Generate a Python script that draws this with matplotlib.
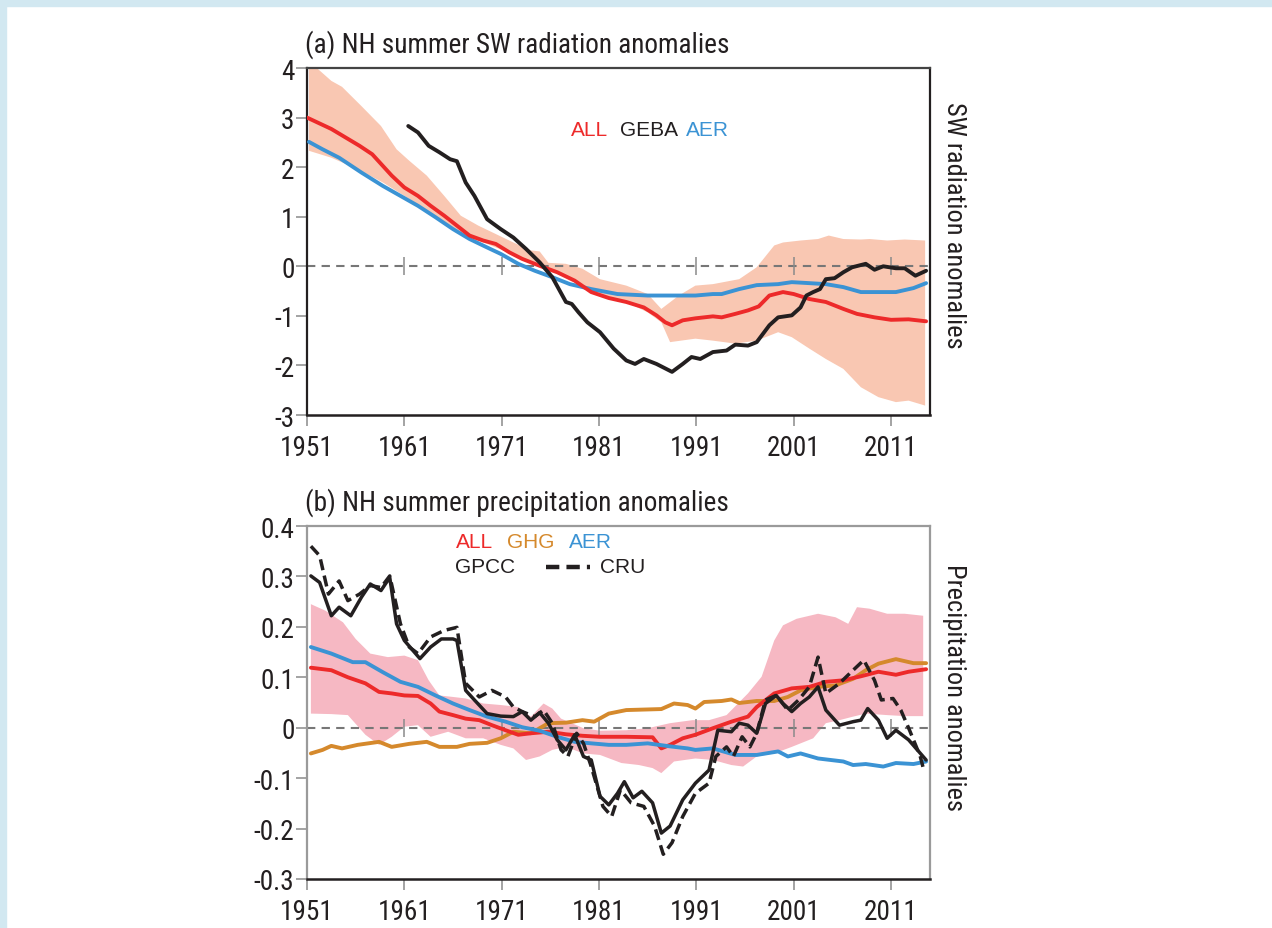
import numpy as np
import matplotlib.pyplot as plt
from matplotlib.patches import Rectangle

# ------------------------------------------------------------
# data
# ------------------------------------------------------------
decades = [1951, 1961, 1971, 1981, 1991, 2001, 2011]

# (a) SW radiation anomalies
a_all_yr = [1951, 1953.5, 1956.4, 1957.7, 1959.7, 1961, 1962.4, 1963.7, 1965.1, 1966.4, 1967.7, 1969.1,
            1970.4, 1971.8, 1973.1, 1974.9, 1976.7, 1978.5, 1980.2, 1982, 1983.8, 1985.6, 1986.9, 1987.8,
            1988.5, 1989.6, 1990.9, 1992.7, 1993.6, 1995, 1996.3, 1997.4, 1998.5, 1999.9, 2001, 2002.6,
            2004.3, 2006.1, 2007.5, 2009.3, 2011, 2012.8, 2014.6]
a_all = [3.0, 2.77, 2.43, 2.26, 1.83, 1.59, 1.42, 1.22, 1.02, 0.82, 0.62, 0.52,
         0.45, 0.28, 0.15, 0.01, -0.12, -0.29, -0.52, -0.64, -0.72, -0.83, -0.99, -1.13,
         -1.19, -1.09, -1.05, -1.01, -1.03, -0.96, -0.89, -0.81, -0.59, -0.52, -0.56, -0.66,
         -0.72, -0.86, -0.96, -1.03, -1.08, -1.07, -1.11]

a_aer_yr = [1951.2, 1952.6, 1954.3, 1956.6, 1958.8, 1960.6, 1962.4, 1964.2, 1966, 1967.7, 1969.5, 1970.9,
            1972.7, 1974.4, 1976.2, 1978, 1980.2, 1982.9, 1986, 1988.3, 1990.9, 1992.7, 1993.6, 1995.4,
            1997.2, 1999.4, 2000.8, 2002.6, 2004.3, 2006.1, 2007.9, 2009.7, 2011.5, 2013.3, 2014.6]
a_aer = [2.51, 2.36, 2.19, 1.89, 1.62, 1.42, 1.22, 0.99, 0.75, 0.55, 0.38, 0.25,
         0.05, -0.09, -0.22, -0.36, -0.46, -0.56, -0.59, -0.59, -0.59, -0.56, -0.56, -0.46,
         -0.38, -0.36, -0.32, -0.34, -0.36, -0.42, -0.52, -0.52, -0.52, -0.44, -0.34]

a_geba_yr = [1961.4, 1962.4, 1963.5, 1964.6, 1965.7, 1966.4, 1967.3, 1968.2, 1969.5, 1970.9, 1972.2, 1973.5,
             1974.9, 1976.2, 1977.6, 1978.2, 1978.9, 1979.8, 1981.1, 1982.5, 1983.8, 1984.7, 1985.6, 1986.9,
             1988.5, 1989.6, 1990.5, 1991.4, 1992.7, 1994.1, 1995, 1996.3, 1997.2, 1998.5, 1999.4, 2000.8,
             2001.7, 2002.3, 2003, 2003.7, 2004.3, 2005.2, 2006.1, 2007, 2008.4, 2009.3, 2010.2, 2011.5,
             2012.4, 2013.5, 2014.6]
a_geba = [2.83, 2.70, 2.43, 2.30, 2.16, 2.12, 1.69, 1.42, 0.95, 0.75, 0.58, 0.35,
          0.08, -0.22, -0.72, -0.76, -0.93, -1.13, -1.33, -1.66, -1.90, -1.97, -1.87, -1.97,
          -2.13, -1.97, -1.83, -1.87, -1.73, -1.70, -1.58, -1.60, -1.53, -1.19, -1.03, -0.99,
          -0.83, -0.59, -0.52, -0.46, -0.26, -0.24, -0.12, -0.02, 0.05, -0.07, 0.0, -0.04,
          -0.04, -0.19, -0.09]

a_hi_yr = [1951.2, 1953.5, 1954.6, 1956.6, 1958.6, 1960.2, 1961.5, 1963.3, 1965.1, 1966.8, 1968.6, 1970.4,
           1972.2, 1974, 1974.9, 1975.8, 1977.6, 1979.3, 1981.1, 1983.8, 1986, 1987.4, 1989.2, 1990.9,
           1992.7, 1995.4, 1997.2, 1999, 1999.9, 2001.7, 2003.5, 2004.6, 2006.1, 2007.9, 2008.8, 2010.6,
           2012.4, 2014.5]
a_hi = [4.14, 3.74, 3.62, 3.23, 2.83, 2.36, 2.13, 1.83, 1.42, 1.02, 0.82, 0.65,
        0.48, 0.32, 0.30, 0.07, 0.05, -0.05, -0.26, -0.39, -0.56, -0.86, -0.59, -0.39,
        -0.36, -0.26, -0.02, 0.42, 0.48, 0.52, 0.55, 0.62, 0.55, 0.54, 0.55, 0.52,
        0.54, 0.52]
a_lo_yr = [1951.2, 1953.5, 1956.2, 1958.8, 1961.5, 1964.2, 1966.8, 1967.7, 1969.5, 1971.8, 1974, 1975.8,
           1977.6, 1979.3, 1981.1, 1983.8, 1986, 1987.4, 1988.3, 1990.9, 1992.7, 1995, 1997.2, 1999.4,
           2000.8, 2002.6, 2004.3, 2006.1, 2007.9, 2009.7, 2011.5, 2012.8, 2014.5]
a_lo = [2.33, 2.19, 1.96, 1.69, 1.36, 1.02, 0.68, 0.58, 0.45, 0.27, 0.08, -0.05,
        -0.22, -0.39, -0.59, -0.72, -0.93, -1.13, -1.53, -1.46, -1.50, -1.56, -1.50, -1.33,
        -1.43, -1.66, -1.87, -2.07, -2.44, -2.64, -2.74, -2.71, -2.81]

# (b) precipitation anomalies
b_all_yr = [1951.4, 1953.5, 1955.2, 1957, 1958.4, 1959.7, 1961, 1962.4, 1963.7, 1964.6, 1966, 1967.3,
            1968.7, 1970, 1971.4, 1972.7, 1974, 1975.8, 1977.6, 1979.3, 1981.1, 1983.8, 1986.5, 1987.4,
            1988.3, 1989.6, 1990.9, 1992.7, 1994.6, 1996.3, 1997.2, 1999, 2000.8, 2002.6, 2004.3, 2006.1,
            2007.9, 2009.7, 2011.5, 2012.8, 2014.6]
b_all = [0.119, 0.114, 0.10, 0.088, 0.071, 0.068, 0.064, 0.063, 0.048, 0.032, 0.025, 0.018,
         0.015, 0.005, -0.005, -0.014, -0.011, -0.008, -0.013, -0.016, -0.018, -0.018, -0.019, -0.041,
         -0.034, -0.021, -0.014, -0.001, 0.012, 0.022, 0.041, 0.068, 0.078, 0.081, 0.091, 0.094,
         0.102, 0.111, 0.105, 0.111, 0.116]

b_ghg_yr = [1951.4, 1952.6, 1953.5, 1954.6, 1956.2, 1958.4, 1959.7, 1961.5, 1963.3, 1964.6, 1966.4, 1967.7,
            1969.5, 1970.9, 1972.2, 1974, 1975.8, 1977.6, 1979.3, 1980.5, 1982, 1983.8, 1985.6, 1987.4,
            1988.7, 1990.1, 1990.9, 1991.8, 1993.6, 1994.6, 1995.4, 1997.2, 1999, 2000.4, 2001.7, 2003.5,
            2005.3, 2007.1, 2008.4, 2009.7, 2011.5, 2013.3, 2014.6]
b_ghg = [-0.051, -0.044, -0.036, -0.041, -0.034, -0.028, -0.038, -0.032, -0.028, -0.038, -0.038, -0.032,
         -0.03, -0.021, -0.008, -0.011, 0.009, 0.01, 0.015, 0.012, 0.028, 0.035, 0.036, 0.037,
         0.048, 0.045, 0.038, 0.051, 0.053, 0.056, 0.049, 0.053, 0.053, 0.061, 0.074, 0.081,
         0.084, 0.097, 0.114, 0.127, 0.136, 0.128, 0.128]

b_aer_yr = [1951.4, 1953.5, 1955.7, 1957, 1958.8, 1960.6, 1962.4, 1964.2, 1966, 1967.7, 1969.5, 1971.4,
            1973.1, 1974.9, 1976.7, 1978.5, 1980.2, 1982, 1983.8, 1986, 1988.3, 1990.1, 1990.9, 1992.7,
            1995, 1997.2, 1999.4, 2000.4, 2001.7, 2003.5, 2006.1, 2007.1, 2008.4, 2010.2, 2011.5, 2013.3,
            2014.6]
b_aer = [0.16, 0.147, 0.13, 0.13, 0.11, 0.091, 0.081, 0.064, 0.048, 0.035, 0.022, 0.012,
         0.001, -0.006, -0.018, -0.028, -0.031, -0.034, -0.034, -0.031, -0.037, -0.041, -0.044, -0.041,
         -0.054, -0.054, -0.047, -0.057, -0.051, -0.061, -0.067, -0.074, -0.072, -0.077, -0.07, -0.072,
         -0.067]

b_gpcc_yr = [1951.4, 1952.3, 1953.5, 1954.3, 1955.5, 1956.6, 1957.5, 1958.6, 1959.5, 1960.2, 1961, 1962.6,
             1963.7, 1964.8, 1966, 1966.4, 1967.3, 1968.2, 1969.5, 1970.9, 1972.2, 1973.1, 1974, 1974.9,
             1975.8, 1976.7, 1977.6, 1978.5, 1979.4, 1980.2, 1981.1, 1982, 1982.9, 1983.6, 1984.5, 1985.4,
             1986.5, 1987.4, 1988.3, 1989.6, 1990.9, 1992.3, 1993.2, 1994.6, 1995.4, 1996.3, 1997.2, 1998.1,
             1999.2, 1999.9, 2000.8, 2001.7, 2002.6, 2003.5, 2004.3, 2005.7, 2007.1, 2007.9, 2008.6, 2009.7,
             2010.6, 2011.5, 2012.8, 2014.6]
b_gpcc = [0.301, 0.288, 0.222, 0.239, 0.222, 0.259, 0.285, 0.272, 0.298, 0.206, 0.173, 0.137,
          0.16, 0.176, 0.176, 0.173, 0.074, 0.055, 0.028, 0.023, 0.022, 0.032, 0.015, 0.03,
          0.009, -0.024, -0.044, -0.014, -0.057, -0.064, -0.136, -0.153, -0.13, -0.107, -0.139, -0.126,
          -0.149, -0.209, -0.195, -0.143, -0.11, -0.084, -0.005, -0.008, 0.009, 0.005, -0.011, 0.048,
          0.064, 0.048, 0.032, 0.048, 0.061, 0.081, 0.035, 0.005, 0.012, 0.015, 0.038, 0.015,
          -0.021, -0.005, -0.024, -0.064]

b_cru_yr = [1951.4, 1952.3, 1953.2, 1954.3, 1955.2, 1956.4, 1957.5, 1958.6, 1959.5, 1960.6, 1961.5, 1962.4,
            1963.7, 1965.1, 1966.4, 1967.3, 1968.7, 1970, 1971.4, 1972.2, 1973.1, 1974.4, 1975.3, 1976.2,
            1977.1, 1977.8, 1978.7, 1979.4, 1980.2, 1981.4, 1982.3, 1983.2, 1984.3, 1985.6, 1986.7, 1987.6,
            1988.5, 1989.6, 1990.9, 1992.3, 1993, 1994.1, 1994.8, 1995.7, 1996.5, 1997.2, 1998.1, 1999.2,
            2000.4, 2001.5, 2002.6, 2003.5, 2004.3, 2005.7, 2007.1, 2008.2, 2009.3, 2010, 2011.2, 2012,
            2012.9, 2014, 2014.4]
b_cru = [0.36, 0.341, 0.265, 0.291, 0.252, 0.265, 0.282, 0.278, 0.301, 0.206, 0.16, 0.147,
         0.18, 0.193, 0.199, 0.088, 0.061, 0.074, 0.061, 0.041, 0.032, 0.022, 0.035, 0.009,
         -0.044, -0.057, -0.011, -0.031, -0.077, -0.156, -0.176, -0.123, -0.149, -0.156, -0.195, -0.251,
         -0.228, -0.176, -0.13, -0.11, -0.057, -0.038, -0.057, -0.018, -0.038, -0.011, 0.055, 0.064,
         0.035, 0.055, 0.081, 0.14, 0.068, 0.088, 0.114, 0.134, 0.094, 0.055, 0.058, 0.035,
         -0.005, -0.057, -0.087]

b_hi_yr = [1951.4, 1952.9, 1954.7, 1956, 1957.5, 1959.3, 1961, 1962.4, 1963.5, 1964.6, 1966, 1967.3,
           1969.1, 1970.9, 1972.7, 1974, 1975.3, 1976.2, 1977.1, 1979.4, 1981.1, 1983.8, 1986, 1988.3,
           1990.6, 1992.3, 1994.1, 1996.3, 1997.7, 1999, 1999.9, 2001.3, 2003.5, 2005.3, 2006.6, 2007.5,
           2008.8, 2010.6, 2012.4, 2014.3]
b_hi = [0.245, 0.232, 0.209, 0.176, 0.147, 0.14, 0.143, 0.134, 0.094, 0.064, 0.061, 0.058,
        0.048, 0.045, 0.041, 0.022, 0.048, 0.038, 0.018, -0.001, -0.006, -0.005, -0.001, 0.009,
        0.015, 0.015, 0.025, 0.068, 0.101, 0.173, 0.203, 0.216, 0.226, 0.219, 0.206, 0.239,
        0.236, 0.226, 0.226, 0.222]
b_lo_yr = [1951.4, 1953.5, 1955.2, 1957, 1958.4, 1959.7, 1961, 1962.4, 1963.7, 1965.5, 1967.3, 1969.1,
           1970.9, 1972.2, 1973.5, 1974.9, 1976.2, 1977.6, 1979.4, 1981.1, 1983.3, 1985.1, 1986.5, 1987.4,
           1988.7, 1990.9, 1992.7, 1994.6, 1995.8, 1997.2, 1999, 2000.8, 2003, 2004.3, 2005.7, 2007.1,
           2008.4, 2010.6, 2012.4, 2014.3]
b_lo = [0.028, 0.027, 0.025, -0.014, -0.034, -0.018, 0.002, 0.005, -0.018, -0.008, -0.021, -0.021,
        -0.034, -0.041, -0.064, -0.057, -0.044, -0.038, -0.051, -0.054, -0.07, -0.074, -0.08, -0.09,
        -0.067, -0.061, -0.064, -0.074, -0.077, -0.057, -0.051, -0.038, -0.021, 0.009, 0.015, 0.022,
        0.028, 0.025, 0.023, 0.023]

a_yticks = [4, 3, 2, 1, 0, -1, -2, -3]
b_yticks = [0.4, 0.3, 0.2, 0.1, 0, -0.1, -0.2, -0.3]
b_ylabels = ['0.4', '0.3', '0.2', '0.1', '0', '-0.1', '-0.2', '-0.3']

# colours
RED = '#ed2a2a'
BLUE = '#3b93d4'
ORANGE = '#d5892c'
BLACK = '#231f20'
GREY = '#8a8a8a'
BAND_A = '#f9c7b2'
BAND_B = '#f6b8c3'

NARROW = ['Roboto Condensed', 'Liberation Sans', 'DejaVu Sans']
plt.rcParams['font.family'] = ['Liberation Sans', 'DejaVu Sans']
LBL = 19.6

fig = plt.figure(figsize=(12.72, 9.29), dpi=100)
W, H = 1272, 929

# light blue page frame
fig.patches.append(Rectangle((0, 1 - 7 / H), 1, 7 / H, transform=fig.transFigure,
                             color='#d2e8f1', zorder=0))
fig.patches.append(Rectangle((0, 0), 6 / W, 1, transform=fig.transFigure,
                             color='#d2e8f1', zorder=0))

ax_a = fig.add_axes([307 / W, 1 - 416 / H, 623 / W, 347 / H])
ax_b = fig.add_axes([307 / W, 1 - 880 / H, 623 / W, 353 / H])


def band(ax, xh, yh, xl, yl, color):
    xs = np.concatenate([xh, xl[::-1]])
    ys = np.concatenate([yh, yl[::-1]])
    ax.fill(xs, ys, color=color, lw=0, zorder=1)


def style_axes(ax, yticks, ylabels, ylim, spine_col):
    ax.set_xlim(1951, 2015)
    ax.set_ylim(*ylim)
    ax.set_xticks(decades)
    ax.set_xticklabels([str(d) for d in decades], family=NARROW, fontsize=LBL)
    ax.set_yticks(yticks)
    ax.set_yticklabels(ylabels, family=NARROW, fontsize=LBL)
    ax.tick_params(axis='both', direction='out', length=8, width=1.1, color=GREY,
                   labelcolor=BLACK)
    ax.tick_params(axis='x', pad=6)
    ax.tick_params(axis='y', pad=1)
    for s in ['left', 'top', 'right']:
        ax.spines[s].set_color(spine_col)
        ax.spines[s].set_linewidth(1.6)
    ax.spines['bottom'].set_color(BLACK)
    ax.spines['bottom'].set_linewidth(1.8)
    # dashed zero line with decade crosses
    ax.axhline(0, color='#777777', ls=(0, (4, 3)), lw=1.5, zorder=2)
    ax.plot(decades[1:], np.zeros(len(decades) - 1), ls='none', marker='|',
            markersize=13, mew=1.1, color=GREY, zorder=2)


# ---------------- panel (a) ----------------
band(ax_a, np.array(a_hi_yr), np.array(a_hi), np.array(a_lo_yr), np.array(a_lo), BAND_A)
style_axes(ax_a, a_yticks, [str(v) for v in a_yticks], (-3, 4), BLACK)
ax_a.spines['top'].set_color('#444444')
ax_a.plot(a_aer_yr, a_aer, color=BLUE, lw=2.8, zorder=3, solid_capstyle='round',
          solid_joinstyle='round')
ax_a.plot(a_all_yr, a_all, color=RED, lw=2.8, zorder=4, solid_capstyle='round',
          solid_joinstyle='round')
ax_a.plot(a_geba_yr, a_geba, color=BLACK, lw=2.8, zorder=5, solid_capstyle='round',
          solid_joinstyle='round')

ax_a.text(0.423, 0.824, 'ALL', color=RED, fontsize=15, transform=ax_a.transAxes, va='center')
ax_a.text(0.502, 0.824, 'GEBA', color=BLACK, fontsize=15, transform=ax_a.transAxes, va='center')
ax_a.text(0.609, 0.824, 'AER', color=BLUE, fontsize=15, transform=ax_a.transAxes, va='center')
ax_a.text(1.038, 0.55, 'SW radiation anomalies', rotation=-90, family=NARROW, fontsize=LBL - 0.6,
          color=BLACK, transform=ax_a.transAxes, ha='center', va='center')
fig.text(305 / W, 1 - 45 / H, '(a) NH summer SW radiation anomalies', family=NARROW,
         fontsize=LBL, color=BLACK, va='center', ha='left')

# ---------------- panel (b) ----------------
band(ax_b, np.array(b_hi_yr), np.array(b_hi), np.array(b_lo_yr), np.array(b_lo), BAND_B)
style_axes(ax_b, b_yticks, b_ylabels, (-0.3, 0.4), '#9a9a9a')
ax_b.plot(b_ghg_yr, b_ghg, color=ORANGE, lw=2.8, zorder=3, solid_capstyle='round',
          solid_joinstyle='round')
ax_b.plot(b_all_yr, b_all, color=RED, lw=2.8, zorder=3, solid_capstyle='round',
          solid_joinstyle='round')
ax_b.plot(b_aer_yr, b_aer, color=BLUE, lw=2.8, zorder=4, solid_capstyle='round',
          solid_joinstyle='round')
ax_b.plot(b_cru_yr, b_cru, color=BLACK, lw=2.5, ls=(0, (3.2, 1.6)), zorder=5)
ax_b.plot(b_gpcc_yr, b_gpcc, color=BLACK, lw=2.5, zorder=6, solid_capstyle='round',
          solid_joinstyle='round')

ax_b.text(0.2395, 0.9575, 'ALL', color=RED, fontsize=15, transform=ax_b.transAxes, va='center')
ax_b.text(0.3215, 0.9575, 'GHG', color=ORANGE, fontsize=15, transform=ax_b.transAxes, va='center')
ax_b.text(0.421, 0.9575, 'AER', color=BLUE, fontsize=15, transform=ax_b.transAxes, va='center')
ax_b.text(0.238, 0.884, 'GPCC', color=BLACK, fontsize=15, transform=ax_b.transAxes, va='center')
ax_b.plot([0.383, 0.455], [0.884, 0.884], color=BLACK, lw=3.2, ls=(0, (3.0, 1.6)),
          transform=ax_b.transAxes, zorder=6)
ax_b.text(0.471, 0.884, 'CRU', color=BLACK, fontsize=15, transform=ax_b.transAxes, va='center')
ax_b.text(1.038, 0.545, 'Precipitation anomalies', rotation=-90, family=NARROW, fontsize=LBL - 0.6,
          color=BLACK, transform=ax_b.transAxes, ha='center', va='center')
fig.text(305 / W, 1 - 503 / H, '(b) NH summer precipitation anomalies', family=NARROW,
         fontsize=LBL, color=BLACK, va='center', ha='left')

fig.savefig('out.png', dpi=100)
